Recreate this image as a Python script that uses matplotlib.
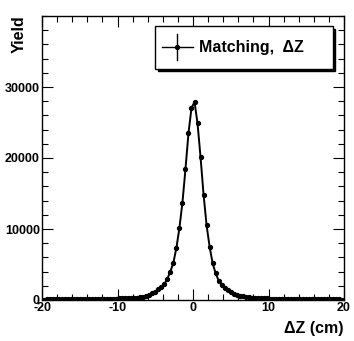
import numpy as np
import matplotlib
matplotlib.use("Agg")
import matplotlib.pyplot as plt
from matplotlib.patches import Rectangle
from matplotlib.ticker import MultipleLocator

plt.rcParams['font.family'] = ['Liberation Sans', 'DejaVu Sans']
plt.rcParams['font.weight'] = 'bold'

# Data: 100 bins of width 0.4 cm from -20 to 20
bin_lo = -20.0
bin_hi = 20.0
n_bins = 100
yield_vals = [
    70, 75, 78, 80, 85, 88, 92, 95, 100, 105,
    108, 112, 118, 122, 128, 133, 140, 146, 153, 160,
    168, 176, 186, 196, 207, 220, 235, 250, 268, 290,
    315, 350, 420, 490, 600, 740, 930, 1180, 1480, 1830,
    2250, 3000, 3990, 5250, 7320, 10140, 13700, 18410, 23480, 27040,
    27890, 24890, 20100, 14830, 10520, 7510, 5170, 3760, 2720, 2100,
    1700, 1380, 1120, 900, 750, 620, 510, 430, 360, 310,
    280, 262, 245, 230, 216, 204, 192, 182, 172, 163,
    155, 147, 140, 133, 127, 121, 115, 110, 105, 100,
    96, 92, 88, 85, 82, 79, 77, 75, 73, 70,
]
legend_label = "Matching,  \u0394Z"
x_label = "\u0394Z (cm)"
y_label = "Yield"

edges = np.linspace(bin_lo, bin_hi, n_bins + 1)
centers = 0.5 * (edges[:-1] + edges[1:])

W, H = 354, 341
fig = plt.figure(figsize=(W / 100, H / 100), dpi=100)
ax = fig.add_axes([42 / W, 41 / H, (344 - 42) / W, (300 - 16) / H])

ax.plot(centers, yield_vals, color='black', lw=1.4, marker='o', ms=2.8,
        mfc='black', mec='black', zorder=3)

ax.set_xlim(bin_lo, bin_hi)
ax.set_ylim(0, 40000)
ax.xaxis.set_major_locator(MultipleLocator(10))
ax.xaxis.set_minor_locator(MultipleLocator(2))
ax.yaxis.set_major_locator(MultipleLocator(10000))
ax.yaxis.set_minor_locator(MultipleLocator(2000))
ax.tick_params(which='both', direction='in', top=True, right=True,
               width=0.8, labelsize=9, pad=1.5)
ax.tick_params(which='major', length=8)
ax.tick_params(which='minor', length=4)
ax.set_xticks([-20, -10, 0, 10, 20])
ax.set_xticklabels(['-20', '-10', '0', '10', '20'], fontweight='bold')
ax.set_yticks([0, 10000, 20000, 30000])
ax.set_yticklabels(['0', '10000', '20000', '30000'], fontweight='bold')
for sp in ax.spines.values():
    sp.set_linewidth(1.0)

fig.text(343 / W, 1 - 328 / H, x_label, ha='right', va='center',
         fontsize=11.5, fontweight='bold')
fig.text(19 / W, 1 - 15 / H, y_label, ha='center', va='top', rotation=90,
         fontsize=11.5, fontweight='bold')

# Legend (ROOT style with shadow)
def fx(px):
    return px / W

def fy(py):
    return 1 - py / H

fig.patches.append(Rectangle((fx(158), fy(71)), fx(335) - fx(158), fy(29) - fy(71),
                             transform=fig.transFigure, facecolor='black',
                             edgecolor='black', zorder=5))
fig.patches.append(Rectangle((fx(155), fy(69)), fx(333) - fx(155), fy(26) - fy(69),
                             transform=fig.transFigure, facecolor='white',
                             edgecolor='black', lw=1.0, zorder=6))
fig.add_artist(plt.Line2D([fx(162), fx(193)], [fy(47), fy(47)], color='black',
                          lw=1.0, transform=fig.transFigure, zorder=7))
fig.add_artist(plt.Line2D([fx(177), fx(177)], [fy(34), fy(60)], color='black',
                          lw=1.0, transform=fig.transFigure, zorder=7))
fig.add_artist(plt.Line2D([fx(177)], [fy(47)], color='black', marker='o', ms=2.8,
                          transform=fig.transFigure, zorder=7))
fig.text(fx(199), fy(47.5), legend_label, ha='left', va='center', fontsize=11.5,
         fontweight='bold', zorder=8)

fig.savefig('out.png', dpi=100)
